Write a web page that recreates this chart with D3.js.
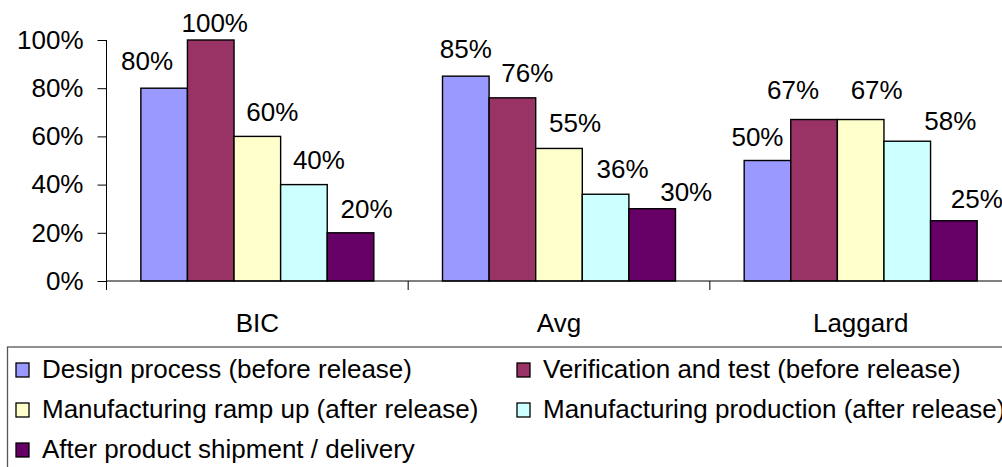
<!DOCTYPE html>
<html>
<head>
<meta charset="utf-8">
<script src="https://cdn.jsdelivr.net/npm/d3@7/dist/d3.min.js"></script>
<style>
  html, body { margin: 0; padding: 0; background: #fff; overflow: hidden; }
  svg { display: block; }
  text { font-family: "Liberation Sans", Arial, sans-serif; font-size: 26px; fill: #000; }
</style>
</head>
<body>
<svg id="chart" width="1002" height="467"></svg>
<script>
// Share of issues found at each stage, per performance group
const categories = ["BIC", "Avg", "Laggard"];
const seriesNames = [
  "Design process (before release)",
  "Verification and test (before release)",
  "Manufacturing ramp up (after release)",
  "Manufacturing production (after release)",
  "After product shipment / delivery"
];
const seriesColors = ["#9999FF", "#993366", "#FFFFCC", "#CCFFFF", "#660066"];
const valuesBIC = [80, 100, 60, 40, 20];
const valuesAvg = [85, 76, 55, 36, 30];
const valuesLaggard = [50, 67, 67, 58, 25];
const yTicks = [0, 20, 40, 60, 80, 100];

// Hand-placed label nudges (px) relative to the top-centre of each bar
const labelNudge = [
  [[-17, -18], [4, -8], [15, -15], [15, -16], [16, -15]],
  [[0, -18], [15, -16], [16, -16], [17, -16], [34, -8]],
  [[-10, -15], [-21, -21], [16, -21], [43, -11], [23, -13]]
];

const rows = [valuesBIC, valuesAvg, valuesLaggard];

const svg = d3.select("#chart");
const plotLeft = 106.5, plotRight = 1011.5, plotTop = 40, plotBottom = 281;

const x0 = d3.scaleBand().domain(categories).range([plotLeft, plotRight]).padding(0);
const x1 = d3.scaleBand().domain(d3.range(seriesNames.length))
  .range([0, x0.bandwidth()]).paddingInner(0).paddingOuter(0.737);
const y = d3.scaleLinear().domain([0, 100]).range([plotBottom, plotTop]);

// Bars
const groups = svg.append("g").selectAll("g")
  .data(categories)
  .join("g")
  .attr("transform", c => `translate(${x0(c)},0)`);

groups.selectAll("rect")
  .data((c, ci) => rows[ci].map((v, si) => ({ v, si, ci })))
  .join("rect")
  .attr("x", d => x1(d.si))
  .attr("y", d => y(d.v))
  .attr("width", x1.bandwidth())
  .attr("height", d => y(0) - y(d.v))
  .attr("fill", d => seriesColors[d.si])
  .attr("stroke", "#000")
  .attr("stroke-width", 1.4);

// Value labels
groups.selectAll("text.val")
  .data((c, ci) => rows[ci].map((v, si) => ({ v, si, ci })))
  .join("text")
  .attr("class", "val")
  .attr("text-anchor", "middle")
  .attr("x", d => x1(d.si) + x1.bandwidth() / 2 + labelNudge[d.ci][d.si][0])
  .attr("y", d => y(d.v) + labelNudge[d.ci][d.si][1])
  .text(d => d.v + "%");

// Y axis
const yAxis = d3.axisLeft(y).tickValues(yTicks).tickSize(9).tickPadding(14)
  .tickFormat(d => d + "%");
const yg = svg.append("g").attr("transform", `translate(${plotLeft},0)`).call(yAxis);
yg.select(".domain").remove();
yg.selectAll(".tick line").attr("stroke", "#000");
yg.selectAll(".tick text")
  .style("font-family", '"Liberation Sans", Arial, sans-serif')
  .style("font-size", "26px")
  .attr("fill", "#000");
svg.append("line")
  .attr("x1", plotLeft).attr("x2", plotLeft)
  .attr("y1", y(100)).attr("y2", plotBottom + 9)
  .attr("stroke", "#000");

// X axis baseline, group separators and category names
svg.append("line")
  .attr("x1", plotLeft).attr("x2", plotRight)
  .attr("y1", plotBottom).attr("y2", plotBottom)
  .attr("stroke", "#000");
svg.append("g").selectAll("line")
  .data(categories.map(c => x0(c)).concat([plotRight]))
  .join("line")
  .attr("x1", d => d).attr("x2", d => d)
  .attr("y1", plotBottom).attr("y2", plotBottom + 9)
  .attr("stroke", "#000");
svg.append("g").selectAll("text")
  .data(categories)
  .join("text")
  .attr("text-anchor", "middle")
  .attr("x", c => x0(c) + x0.bandwidth() / 2)
  .attr("y", plotBottom + 51)
  .text(c => c);

// Legend
const legend = svg.append("g");
legend.append("rect")
  .attr("x", 7.5).attr("y", 347)
  .attr("width", 1010).attr("height", 140)
  .attr("fill", "#fff")
  .attr("stroke", "#555")
  .attr("stroke-width", 1.3);

const items = legend.selectAll("g.item")
  .data(seriesNames.map((n, i) => ({ n, i })))
  .join("g")
  .attr("class", "item")
  .attr("transform", d => `translate(${16 + (d.i % 2) * 501},${378 + Math.floor(d.i / 2) * 40})`);
items.append("rect")
  .attr("x", 0).attr("y", -15)
  .attr("width", 13).attr("height", 14)
  .attr("fill", d => seriesColors[d.i])
  .attr("stroke", "#000")
  .attr("stroke-width", 1.3);
items.append("text")
  .attr("x", 26).attr("y", 0)
  .text(d => d.n);
</script>
</body>
</html>
